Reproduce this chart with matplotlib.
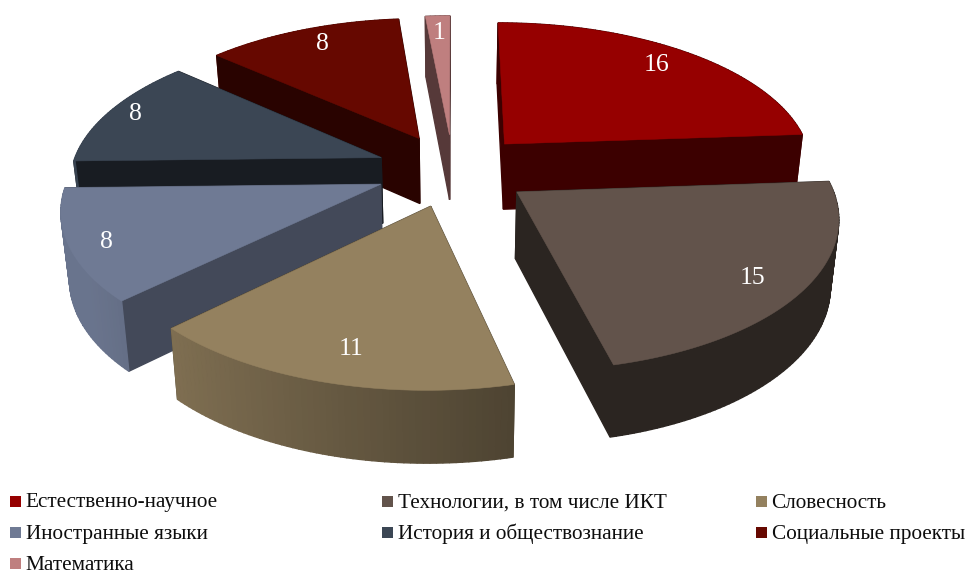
import numpy as np
import matplotlib
matplotlib.use('Agg')
import matplotlib.pyplot as plt
from matplotlib.patches import Polygon, Rectangle

plt.rcParams['font.family'] = ['Liberation Serif', 'DejaVu Serif']

categories = ['Естественно-научное', 'Технологии, в том числе ИКТ', 'Словесность',
              'Иностранные языки', 'История и обществознание', 'Социальные проекты',
              'Математика']
values = [16, 15, 11, 8, 8, 8, 1]

colors = ['#960000', '#62534b', '#94815f', '#6f7a94', '#3b4654', '#660800', '#bf7f7f']
cut_shade = [0.40, 0.44, 0.50, 0.60, 0.40, 0.40, 0.45]
label_r = [0.84, 0.85, 0.83, 0.89, 0.91, 0.85, 0.84]
label_da = [-1., 1.5, -1.5, -1.5, 0.5, 1.3, 0.]   # degrees, the labels are not quite on the bisector
draw_order = [6, 5, 4, 0, 3, 1, 2]

# projection of the tilted disc
cx, cy = 453., 170.
rx, ry = 310., 145.7
k = 0.145          # perspective
depth = 66.
explode = 0.25


def project(u, v, z=0.):
    w = 1. / (1. + k * v)
    sx = cx + rx * u * w * (1. - 0.022 * z)
    sy = cy - ry * v * w + z * depth * np.sqrt(w)
    return sx, sy


def shade(col, f):
    return tuple(c * f for c in matplotlib.colors.to_rgb(col))


def side_shade(u):
    return np.clip(0.5 + (0.23 - u) * 0.35, 0.44, 0.95)


fig = plt.figure(figsize=(9.68, 5.71), dpi=100)
ax = fig.add_axes([0, 0, 1, 1])
ax.set_xlim(0, 968)
ax.set_ylim(571, 0)
ax.axis('off')

edges = np.cumsum([0] + values) / float(sum(values)) * 2 * np.pi
for i in draw_order:
    a0, a1 = edges[i], edges[i + 1]
    mid = 0.5 * (a0 + a1)
    ou, ov = explode * np.sin(mid), explode * np.cos(mid)
    th = np.linspace(a0, a1, max(int(np.degrees(a1 - a0)), 2) + 1)
    us, vs = ou + np.sin(th), ov + np.cos(th)

    faces = []
    # outer band, one quad per degree for the gradient
    for j in range(len(th) - 1):
        q = [project(us[j], vs[j]), project(us[j + 1], vs[j + 1]),
             project(us[j + 1], vs[j + 1], 1.), project(us[j], vs[j], 1.)]
        um = 0.5 * (us[j] + us[j + 1])
        faces.append((0.5 * (vs[j] + vs[j + 1]), q, shade(colors[i], side_shade(um))))
    # the two cut faces
    for m in (0, -1):
        q = [project(ou, ov), project(us[m], vs[m]),
             project(us[m], vs[m], 1.), project(ou, ov, 1.)]
        faces.append((0.5 * (ov + vs[m]), q, shade(colors[i], cut_shade[i])))
    faces.sort(key=lambda t: -t[0])
    for _, q, c in faces:
        ax.add_patch(Polygon(q, closed=True, fc=c, ec=c, lw=1.0))

    top = [project(ou, ov)] + [project(a, b) for a, b in zip(us, vs)]
    ax.add_patch(Polygon(top, closed=True, fc=colors[i], ec=colors[i], lw=0.4))

    la = mid + np.radians(label_da[i])
    lx, ly = project(ou + label_r[i] * np.sin(la), ov + label_r[i] * np.cos(la))
    ax.text(lx, ly, str(values[i]), color='white', fontsize=18.5,
            ha='center', va='center', zorder=50)

# legend
col_x = [10, 382, 756]
row_y = [507.5, 538.5, 569.5]
for i, name in enumerate(categories):
    x = col_x[i % 3]
    y = row_y[i // 3]
    ax.add_patch(Rectangle((x, y - 12), 11, 11, fc=colors[i], ec='none'))
    ax.text(x + 15.5, y, name, color='#0d0d0d', fontsize=15.3, ha='left', va='baseline')

fig.savefig('out.png', dpi=100)
